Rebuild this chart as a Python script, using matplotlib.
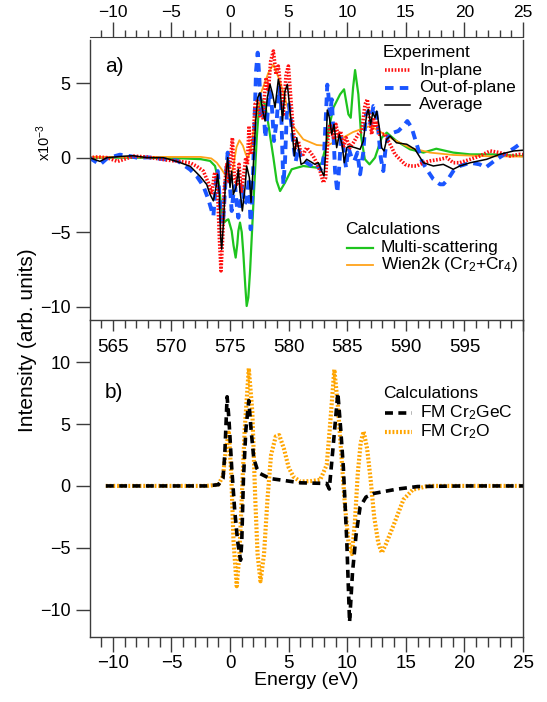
import numpy as np
import matplotlib
matplotlib.use('Agg')
import matplotlib.pyplot as plt
from matplotlib.lines import Line2D
from matplotlib.ticker import MultipleLocator, FuncFormatter

plt.rcParams['font.family'] = ['Liberation Sans', 'DejaVu Sans']
plt.rcParams['mathtext.fontset'] = 'custom'
plt.rcParams['mathtext.rm'] = 'Liberation Sans'
plt.rcParams['mathtext.it'] = 'Liberation Sans:italic'
plt.rcParams['mathtext.default'] = 'regular'

# Panel a) experiment + calculations, (energy eV, intensity x1e-3)
inplane = [(-12, 0), (-11.3, 0.05), (-10.5, 0), (-9.6, -0.25), (-9.0, -0.1), (-8.2, 0.1),
           (-7.2, 0.05), (-6.3, -0.05), (-5.4, -0.16), (-4.3, -0.25), (-3.4, -0.35),
           (-2.84, -0.58), (-2.28, -0.9), (-1.85, -1.7), (-1.56, -2.46), (-1.34, -1.12),
           (-1.2, -1.0), (-1.05, -2.46), (-0.91, -5.37), (-0.77, -7.6), (-0.63, -5.37),
           (-0.48, -2.0), (-0.28, -0.45), (-0.14, -1.57), (0.0, -0.45), (0.2, 1.34),
           (0.37, -1.34), (0.57, -1.79), (0.77, -0.45), (0.94, -2.35), (1.14, -1.34),
           (1.34, 0.0), (1.48, -0.45), (1.62, 2.13), (1.76, 0.22), (1.93, 0.45),
           (2.13, 3.58), (2.33, 3.8), (2.56, 2.68), (2.79, 2.68), (3.07, 5.37),
           (3.27, 4.47), (3.47, 6.49), (3.7, 7.16), (3.92, 5.59), (4.12, 6.15),
           (4.35, 4.47), (4.55, 2.91), (4.78, 5.59), (4.98, 6.15), (5.18, 4.03),
           (5.4, 1.79), (5.6, 0.67), (5.83, 1.12), (6.03, 0.34), (6.25, 0.22),
           (6.54, 0.67), (6.88, 0.34), (7.17, 0.0), (7.45, -0.45), (7.68, -0.9),
           (7.96, -1.68), (8.16, -1.34), (8.33, 1.12), (8.53, 2.24), (8.82, 1.34),
           (9.04, 2.24), (9.24, 1.34), (9.44, 1.79), (9.67, 0.67), (9.9, 1.34),
           (10.24, 0.67), (10.52, 1.0), (10.95, 1.57), (11.24, 1.79), (11.52, 3.58),
           (11.72, 3.92), (11.89, 2.68), (12.09, 1.57), (12.23, 2.68), (12.37, 2.01),
           (12.52, 2.46), (12.74, 1.57), (13.22, 1.57), (13.51, 1.12), (13.8, 0.67),
           (14.08, 0.22), (14.5, -0.11), (14.93, -0.45), (15.36, -0.56), (15.93, -0.56),
           (16.5, -0.34), (17.06, -0.22), (17.92, -0.11), (18.5, 0.0), (19.05, -0.34),
           (19.6, -0.34), (20.5, -0.11), (21.3, 0.11), (22.2, 0.45), (23.0, 0.34),
           (23.9, 0.11), (24.7, 0.22), (25, 0.2)]

outplane = [(-12, 0), (-11.1, -0.47), (-10.5, -0.05), (-9.4, 0.2), (-8.5, 0.1), (-7.96, 0),
            (-7.0, 0.02), (-5.7, -0.1), (-4.5, -0.2), (-3.41, -0.8), (-2.84, -1.25),
            (-2.28, -1.9), (-1.85, -2.8), (-1.56, -3.58), (-1.42, -3.92), (-1.2, -1.57),
            (-1.05, -0.9), (-0.91, -2.46), (-0.74, -4.47), (-0.57, -4.03), (-0.37, -1.34),
            (-0.2, 0.34), (0.0, -2.0), (0.14, -3.58), (0.28, -2.46), (0.43, -1.9),
            (0.57, -3.13), (0.71, -4.03), (0.85, -3.13), (1.05, -1.79), (1.22, -3.13),
            (1.42, -2.9), (1.62, -1.34), (1.76, -4.81), (1.93, -2.0), (2.07, 1.79),
            (2.22, 5.82), (2.36, 7.05), (2.5, 5.37), (2.65, 2.68), (2.84, 3.58),
            (3.01, 1.34), (3.18, 2.68), (3.36, 4.47), (3.56, 3.58), (3.75, 1.12),
            (3.98, 2.46), (4.18, 4.7), (4.35, 3.58), (4.55, -1.79), (4.69, -0.27),
            (4.84, 2.91), (5.03, 3.58), (5.2, 2.46), (5.4, 0.9), (5.6, -0.27),
            (5.83, 0.67), (6.03, 0.11), (6.25, -0.22), (6.54, -0.34), (6.97, -0.56),
            (7.25, -0.78), (7.54, -0.56), (7.82, -0.9), (8.02, 0.22), (8.16, 2.46),
            (8.3, 4.9), (8.39, 4.25), (8.53, 2.91), (8.68, 3.92), (8.82, 1.79),
            (8.96, -0.9), (9.16, -2.35), (9.33, -0.45), (9.47, 1.34), (9.67, 0.67),
            (9.9, -0.67), (10.1, 0.67), (10.38, 0), (10.6, -0.22), (10.87, 0.34),
            (11.1, -1.12), (11.37, 0.34), (11.6, 2.91), (11.8, 3.13), (12.0, 2.24),
            (12.23, 3.47), (12.43, 3.36), (12.63, 2.01), (12.86, 0), (13.08, -0.9),
            (13.25, 0.45), (13.51, 1.57), (13.94, 1.68), (14.36, 1.79), (14.79, 2.13),
            (15.13, 2.46), (15.5, 2.01), (15.93, 0.9), (16.36, -0.22), (16.78, -0.78),
            (17.35, -1.45), (17.92, -1.79), (18.2, -1.79), (18.6, -1.45), (19.05, -0.9),
            (19.6, -0.56), (20.5, -0.34), (21.3, -0.45), (21.8, -0.67), (22.55, -0.22),
            (23.4, 0.22), (24.3, 0.67), (24.7, 0.9), (25, 0.95)]

average = [(-12, 0), (-11.1, -0.25), (-10.5, 0), (-9.0, 0.1), (-8.25, 0.13), (-7.1, 0),
           (-5.7, 0), (-4.55, -0.25), (-3.4, -0.58), (-2.56, -1.25), (-1.99, -1.8),
           (-1.71, -2.46), (-1.42, -2.9), (-1.2, -2.0), (-1.05, -1.12), (-0.91, -2.46),
           (-0.8, -5.37), (-0.71, -6.15), (-0.57, -4.47), (-0.37, -1.34), (-0.2, 0),
           (0, -2.0), (0.14, -0.9), (0.28, -2.46), (0.51, -2.0), (0.71, -0.78),
           (0.85, -2.24), (1.05, -3.58), (1.28, -2.0), (1.42, -0.56), (1.65, -1.34),
           (1.79, -3.0), (1.99, -0.45), (2.19, 2.46), (2.36, 4.03), (2.56, 4.36),
           (2.79, 3.13), (2.99, 2.46), (3.18, 4.03), (3.41, 4.92), (3.64, 4.25),
           (3.84, 3.36), (4.12, 5.26), (4.27, 4.7), (4.47, 2.46), (4.69, 4.47),
           (4.89, 4.92), (5.12, 3.13), (5.32, 1.57), (5.49, 0.11), (5.69, 1.34),
           (5.89, 0.45), (6.06, -0.45), (6.31, -0.34), (6.54, -0.11), (6.88, -0.27),
           (7.25, -0.45), (7.54, -0.34), (7.82, -0.9), (8.02, -1.23), (8.19, 0.67),
           (8.3, 3.2), (8.48, 2.68), (8.68, 1.57), (8.87, 2.24), (9.1, 0.67),
           (9.33, 1.57), (9.56, 0.9), (9.75, -0.34), (9.96, 0.67), (10.18, 0.78),
           (10.67, 0.67), (11.1, 0.56), (11.37, 1.12), (11.66, 2.91), (11.8, 3.24),
           (12.0, 2.24), (12.18, 3.02), (12.37, 2.68), (12.52, 3.13), (12.74, 2.01),
           (12.94, 0.67), (13.14, 0.45), (13.37, 1.23), (13.65, 1.45), (14.2, 1.0),
           (15.08, 0.9), (15.78, 0.56), (16.5, -0.34), (17.35, -0.56), (18.2, -0.45),
           (19.05, -0.78), (19.6, -0.56), (20.5, -0.34), (21.9, -0.11), (23.0, 0.22),
           (24.2, 0.45), (25, 0.5)]

multi_scattering = [(-12, 0), (-8, 0), (-4, -0.05), (-2.5, -0.1), (-1.7, -0.22), (-1.28, -0.56),
                    (-0.99, -1.57), (-0.71, -3.58), (-0.51, -4.36), (-0.3, -4.2), (-0.14, -4.14),
                    (0.14, -4.92), (0.3, -5.9), (0.48, -6.71), (0.62, -5.8), (0.71, -4.92),
                    (0.85, -4.36), (1.0, -5.0), (1.14, -6.49), (1.3, -8.6), (1.42, -9.96),
                    (1.56, -9.4), (1.71, -7.6), (1.99, -3.13), (2.28, 1.34), (2.45, 3.2),
                    (2.65, 3.92), (2.99, 3.58), (3.27, 2.24), (3.7, 0), (3.98, -1.57),
                    (4.27, -2.24), (4.69, -1.68), (5.26, -0.78), (6.25, -0.56), (7.4, -0.67),
                    (7.82, -0.34), (8.25, 1.0), (8.5, 2.2), (8.82, 3.36), (9.39, 4.25),
                    (9.73, 4.59), (9.95, 3.6), (10.1, 2.91), (10.3, 2.68), (10.5, 4.7),
                    (10.67, 5.88), (10.95, 4.25), (11.2, 1.34), (11.5, -0.1), (11.9, -0.45),
                    (12.37, 0), (12.94, 1.34), (13.37, 1.68), (14.2, 1.12), (15.36, 0.56),
                    (16.5, 0.34), (17.6, 0.6), (19.05, 0.34), (20.5, 0.22), (22.5, 0.22),
                    (25, 0.1)]

wien2k = [(-12, 0.05), (-5, 0.05), (-2.5, 0.05), (-1.6, -0.05), (-1.14, -0.33), (-0.7, -0.8),
          (-0.28, -1.34), (0, -1.57), (0.3, -0.5), (0.55, 0.7), (0.8, 1.17), (1.1, 0.8),
          (1.35, 0.2), (1.56, 0), (1.85, 1.0), (2.13, 2.46), (2.7, 4.47), (3.27, 5.7),
          (3.7, 6.26), (4.27, 5.1), (4.84, 3.58), (5.4, 2.1), (6.25, 1.23), (7.4, 0.85),
          (8.25, 0.8), (9.39, 1.23), (10.5, 1.72), (11.95, 2.13), (12.94, 1.68),
          (13.9, 1.23), (15.36, 0.67), (17.06, 0.34), (19.05, 0.18), (21.9, 0.1), (25, 0.07)]

# Panel b) calculations
fm_cr2gec = [(-10.6, 0), (-2, 0), (-1.0, 0.1), (-0.6, 0.6), (-0.45, 2.5), (-0.25, 7.2),
             (-0.1, 5.5), (0.14, 1.5), (0.4, -2.0), (0.65, -4.5), (0.9, -6.0), (1.0, -4.5),
             (1.14, 0.5), (1.35, 4.5), (1.6, 6.9), (1.8, 4.5), (2.03, 2.2), (2.3, 1.4),
             (2.56, 1.0), (3.4, 0.6), (4.55, 0.45), (6.0, 0.25), (8.25, 0.2), (8.47, -0.25),
             (8.8, 3.2), (9.2, 7.5), (9.45, 4.5), (9.67, 1.5), (9.96, -4.4), (10.2, -11.0),
             (10.45, -7.0), (10.75, -4.0), (11.1, -1.7), (11.6, -0.9), (12.3, -0.6),
             (14.3, -0.25), (16, -0.05), (20, 0), (25, 0)]

fm_cr2o = [(-10.6, 0), (-2, 0), (-1.0, 0.1), (-0.6, 0.8), (-0.35, 3.0), (-0.1, 4.3),
           (0.1, 1.0), (0.3, -4.5), (0.57, -8.1), (0.8, -5.5), (1.0, -1.0), (1.25, 4.5),
           (1.6, 9.5), (1.9, 6.0), (2.15, -1.0), (2.35, -5.5), (2.6, -7.7), (2.9, -5.5),
           (3.2, -1.0), (3.5, 2.5), (3.9, 4.0), (4.2, 4.1), (4.6, 3.0), (5.0, 1.5),
           (5.4, 0.75), (6.0, 0.35), (7.0, 0.4), (7.7, 0.5), (8.25, 1.7), (8.5, 4.5),
           (8.9, 9.4), (9.2, 6.5), (9.5, 2.5), (9.8, -1.5), (10.1, -4.5), (10.4, -5.5),
           (10.65, -3.0), (10.9, 1.0), (11.15, 3.5), (11.4, 4.4), (11.7, 3.0), (12.0, 0.5),
           (12.3, -2.5), (12.65, -4.6), (12.95, -5.4), (13.3, -4.7), (13.9, -3.3),
           (14.8, -1.1), (15.6, -0.3), (16.9, 0), (25, 0)]

edge_energy = 575  # photon energy of 0 eV
energy_ticks = [-10, -5, 0, 5, 10, 15, 20, 25]

W, H = 547, 702
AX_COL = '#3c3c3c'


def fx(x):
    return x / W


def fy(y):
    return 1 - y / H


def xy(curve):
    arr = np.array(curve, dtype=float)
    return arr[:, 0], arr[:, 1]


def legend_block(title, entries, x0, y0, dy, hx0, hx1, tx, size=12.5):
    fig.text(fx(x0), fy(y0), title, fontsize=size, va='center', ha='left')
    for i, (label, style) in enumerate(entries):
        y = y0 + dy * (i + 1)
        fig.add_artist(Line2D([fx(hx0), fx(hx1)], [fy(y), fy(y)],
                              transform=fig.transFigure, **style))
        fig.text(fx(tx), fy(y), label, fontsize=size, va='center', ha='left')


fig = plt.figure(figsize=(W / 100, H / 100), dpi=100)
ax_a = fig.add_axes([fx(90), fy(320), (523 - 90) / W, (320 - 40) / H])
ax_b = fig.add_axes([fx(90), fy(637), (523 - 90) / W, (637 - 320) / H])
ax_b.patch.set_alpha(0)

styles = {
    'inplane': dict(color='#ff1010', lw=2.6, ls=(0, (0.45, 0.45))),
    'outplane': dict(color='#1a55ff', lw=2.8, ls=(0, (2.2, 1.6))),
    'average': dict(color='black', lw=1.1, ls='-'),
    'multi': dict(color='#1ec41e', lw=1.6, ls='-'),
    'wien': dict(color='#ffa31a', lw=1.3, ls='-'),
    'gec': dict(color='black', lw=2.6, ls=(0, (2.2, 1.5))),
    'cr2o': dict(color='#ffa500', lw=3.0, ls=(0, (0.45, 0.45))),
}

ax_a.plot(*xy(multi_scattering), **styles['multi'])
ax_a.plot(*xy(wien2k), **styles['wien'])
ax_a.plot(*xy(outplane), **styles['outplane'])
ax_a.plot(*xy(inplane), **styles['inplane'])
ax_a.plot(*xy(average), **styles['average'])

ax_b.plot(*xy(fm_cr2o), **styles['cr2o'])
ax_b.plot(*xy(fm_cr2gec), **styles['gec'])

for ax in (ax_a, ax_b):
    ax.set_xlim(-11.95, 25)
    for s in ax.spines.values():
        s.set_color(AX_COL)
        s.set_linewidth(1.0)
    ax.tick_params(axis='y', direction='out', length=10, width=1, color=AX_COL,
                   labelsize=13, pad=4)
    ax.xaxis.set_major_locator(MultipleLocator(5))
    ax.xaxis.set_minor_locator(MultipleLocator(1))

ax_a.set_ylim(-10.9, 7.9)
ax_a.set_yticks([-10, -5, 0, 5])
ax_b.set_ylim(-12.2, 13.4)
ax_b.set_yticks([-10, -5, 0, 5, 10])

# photon energy axis between the panels
ax_a.spines['top'].set_visible(False)
ax_a.xaxis.set_major_formatter(FuncFormatter(
    lambda v, p: '' if v > 22 else f'{v + edge_energy:.0f}'))
ax_a.tick_params(axis='x', which='major', direction='out', length=8, width=1,
                 color=AX_COL, labelsize=13.5, pad=6)
ax_a.tick_params(axis='x', which='minor', direction='out', length=6, width=1,
                 color=AX_COL)

# energy axis on top
top = ax_a.secondary_xaxis(1 + 3 / 280)
top.set_xticks(energy_ticks)
top.xaxis.set_minor_locator(MultipleLocator(1))
top.spines['top'].set_color(AX_COL)
top.tick_params(axis='x', which='major', direction='out', length=11, width=1,
                color=AX_COL, labelsize=12.5, pad=1)
top.tick_params(axis='x', which='minor', direction='out', length=5, width=1,
                color=AX_COL)

ax_b.spines['top'].set_visible(False)
ax_b.set_xticks(energy_ticks)
ax_b.tick_params(axis='x', which='major', direction='out', length=11, width=1,
                 color=AX_COL, labelsize=13.5, pad=2)
ax_b.tick_params(axis='x', which='minor', direction='out', length=7, width=1,
                 color=AX_COL)
ax_b.set_xlabel('Energy (eV)', fontsize=14, labelpad=0)

fig.text(fx(28), fy(340), 'Intensity (arb. units)', rotation=90, fontsize=15,
         ha='center', va='center')
fig.text(fx(44), fy(143), 'x10$^{-3}$', rotation=90, fontsize=10.5,
         ha='center', va='center')

fig.text(fx(105), fy(66), 'a)', fontsize=15, va='center', ha='left')
fig.text(fx(105), fy(393), 'b)', fontsize=15, va='center', ha='left')

legend_block('Experiment',
             [('In-plane', styles['inplane']),
              ('Out-of-plane', styles['outplane']),
              ('Average', styles['average'])],
             383, 52.5, 17.5, 385, 410, 419)
legend_block('Calculations',
             [('Multi-scattering', styles['multi']),
              ('Wien2k (Cr$_2$+Cr$_4$)', styles['wien'])],
             345, 230, 17.5, 347, 373, 381)
legend_block('Calculations',
             [('FM Cr$_2$GeC', styles['gec']),
              ('FM Cr$_2$O', styles['cr2o'])],
             383, 393, 19.5, 385, 412, 420)

fig.savefig('out.png', dpi=100)
